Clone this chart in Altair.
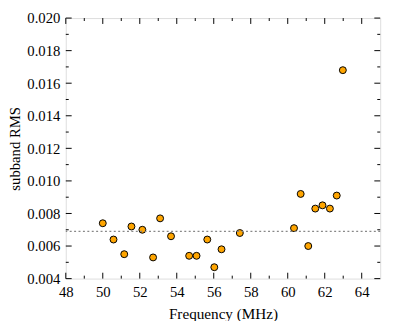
import altair as alt
import pandas as pd

freq = [50.0, 50.58, 51.16, 51.55, 52.14, 52.72, 53.1, 53.69, 54.67, 55.07, 55.65, 56.03, 56.42,
        57.41, 60.34, 60.70, 61.11, 61.49, 61.88, 62.28, 62.65, 62.98]
rms = [0.0074, 0.0064, 0.0055, 0.0072, 0.0070, 0.0053, 0.0077, 0.0066, 0.0054, 0.0054, 0.0064, 0.0047, 0.0058,
       0.0068, 0.0071, 0.0092, 0.0060, 0.0083, 0.0085, 0.0083, 0.0091, 0.0168]
mean_rms = 0.0069

x_major = [48, 50, 52, 54, 56, 58, 60, 62, 64]
x_minor = [49, 51, 53, 55, 57, 59, 61, 63]
y_major = [0.004, 0.006, 0.008, 0.010, 0.012, 0.014, 0.016, 0.018, 0.020]
y_minor = [0.005, 0.007, 0.009, 0.011, 0.013, 0.015, 0.017, 0.019]

W, H = 321, 266
FONT = "Liberation Serif"
FS = 15
XT = "Frequency (MHz)"
YT = "subband RMS"

xs = alt.Scale(domain=[48, 65], nice=False, zero=False)
ys = alt.Scale(domain=[0.004, 0.020], nice=False, zero=False)

x_axis = alt.Axis(values=x_major, ticks=False, domain=False, grid=False, labelPadding=6,
                  labelOverlap=False, labelFlush=False,
                  labelFont=FONT, labelFontSize=FS, labelColor="black",
                  titleFont=FONT, titleFontSize=15.5, titleFontWeight="normal", titleColor="black", titlePadding=8)
y_axis = alt.Axis(values=y_major, format=".3f", ticks=False, domain=False, grid=False, labelPadding=6,
                  labelOverlap=False, labelFlush=False,
                  labelFont=FONT, labelFontSize=FS, labelColor="black",
                  titleFont=FONT, titleFontSize=15, titleFontWeight="normal", titleColor="black", titlePadding=5)

df = pd.DataFrame({"f": freq, "r": rms})

points = alt.Chart(df).mark_point(filled=True, fill="#FFA500", stroke="black", strokeWidth=1, size=50, opacity=1).encode(
    x=alt.X("f:Q", scale=xs, title=XT, axis=x_axis),
    y=alt.Y("r:Q", scale=ys, title=YT, axis=y_axis),
)

hline = alt.Chart(pd.DataFrame({"m": [mean_rms]})).mark_rule(color="#888888", strokeDash=[2, 2.5], strokeWidth=1.5).encode(
    y=alt.Y("m:Q", scale=ys, title=YT, axis=y_axis)
)

def xticks(vals, L):
    d = pd.DataFrame({"t": vals})
    bot = alt.Chart(d).mark_rule(color="black", strokeWidth=1).encode(
        x=alt.X("t:Q", scale=xs, title=XT, axis=x_axis), y=alt.value(H), y2=alt.value(H - L))
    top = alt.Chart(d).mark_rule(color="black", strokeWidth=1).encode(
        x=alt.X("t:Q", scale=xs, title=XT, axis=x_axis), y=alt.value(0), y2=alt.value(L))
    return bot + top

def yticks(vals, L):
    d = pd.DataFrame({"t": vals})
    lft = alt.Chart(d).mark_rule(color="black", strokeWidth=1).encode(
        y=alt.Y("t:Q", scale=ys, title=YT, axis=y_axis), x=alt.value(0), x2=alt.value(L))
    rgt = alt.Chart(d).mark_rule(color="black", strokeWidth=1).encode(
        y=alt.Y("t:Q", scale=ys, title=YT, axis=y_axis), x=alt.value(W), x2=alt.value(W - L))
    return lft + rgt

chart = alt.layer(
    points, hline, xticks(x_major, 6), xticks(x_minor, 3), yticks(y_major, 6), yticks(y_minor, 3)
).properties(
    width=W, height=H,
    autosize=alt.AutoSizeParams(type="none"),
    padding={"left": 59, "top": 7, "right": 10, "bottom": 40},
).configure_view(stroke="black", strokeWidth=1.5).configure(background="white")

chart.save("out.html", embed_options={"renderer": "svg", "actions": False})
